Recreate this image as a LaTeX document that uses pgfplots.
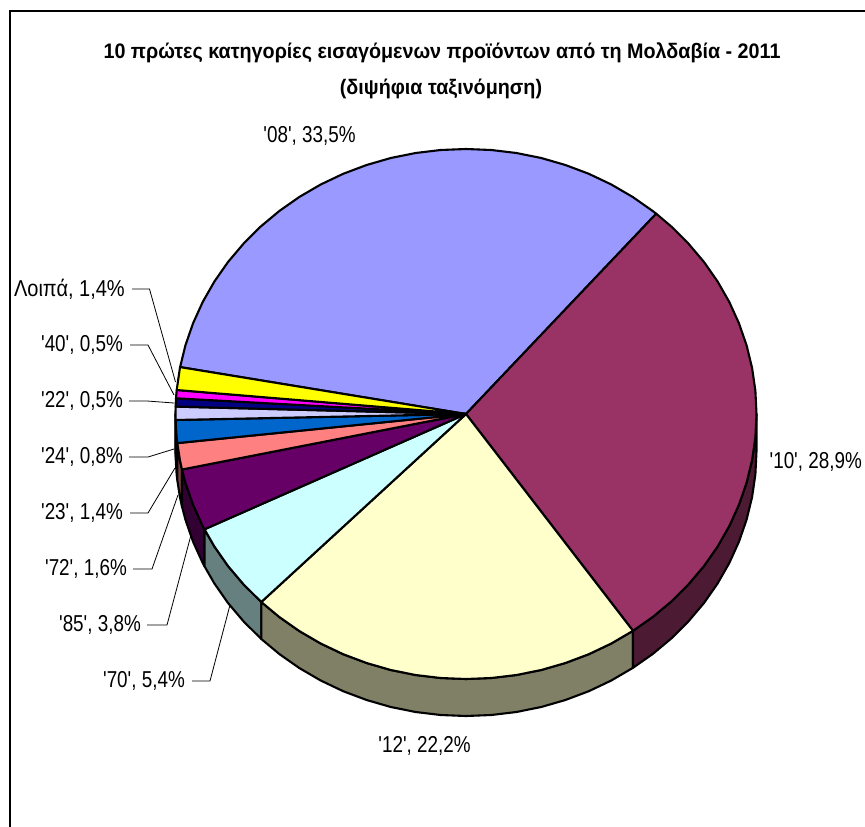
\documentclass[border=0pt]{standalone}
\usepackage{fontspec}
\setmainfont{Liberation Sans}
\newfontfamily\labfont{Liberation Sans}[FakeStretch=0.82]
\newfontfamily\otherfont{Liberation Sans}[FakeStretch=0.87]
\newfontfamily\titlefont{Liberation Sans}[FakeStretch=0.94]
\usepackage{pgfplots}
\pgfplotsset{compat=1.18}
\definecolor{c08}{HTML}{9999FF}
\definecolor{c10}{HTML}{993366}
\definecolor{c12}{HTML}{FFFFCC}
\definecolor{c70}{HTML}{CCFFFF}
\definecolor{c85}{HTML}{660066}
\definecolor{c72}{HTML}{FF8080}
\definecolor{c23}{HTML}{0066CC}
\definecolor{c24}{HTML}{CCCCFF}
\definecolor{c22}{HTML}{000080}
\definecolor{c40}{HTML}{FF00FF}
\definecolor{cother}{HTML}{FFFF00}
\definecolor{d10}{HTML}{4D1A33}
\definecolor{d12}{HTML}{808066}
\definecolor{d70}{HTML}{668080}
\definecolor{d85}{HTML}{330033}
\definecolor{d72}{HTML}{804040}
\definecolor{d23}{HTML}{003366}
\definecolor{d24}{HTML}{666680}
\tikzset{
  slice/.style={draw=black,line width=2.1pt,line join=round,fill=#1},
  leader/.style={draw=black,line width=0.8pt},
  lab/.style={font=\labfont\fontsize{23}{26}\selectfont,inner sep=0pt},
  ttl/.style={font=\titlefont\fontsize{21}{24}\bfseries\selectfont,inner sep=0pt},
}
\begin{document}
\begin{tikzpicture}
\path[use as bounding box] (0,0) rectangle (865pt,827pt);
\begin{axis}[
  at={(0,0)},anchor=south west,
  scale only axis,width=865pt,height=827pt,
  xmin=0,xmax=865,ymin=0,ymax=827,y dir=reverse,
  hide axis,clip=false,no markers,
]
% chart frame, cut off on the right and at the bottom
\addplot[draw=black,line width=2.8pt] coordinates {(865,11) (10,11) (10,827)};

% side walls
\addplot[slice=d24] coordinates {(175.6,420) (175.5,414) (175.5,451) (175.6,457) (175.6,420)};
\addplot[slice=d23] coordinates {(177.3,443.1) (176.6,437.1) (175.6,420) (175.6,457) (176.6,474.1) (177.3,480.1) (177.3,443.1)};
\addplot[slice=d72] coordinates {(182,469.5) (179.9,460) (177.3,443.1) (177.3,480.1) (179.9,497) (182,506.5) (182,469.5)};
\addplot[slice=d85] coordinates {(204.5,529.3) (202.7,526) (193,504.6) (185.4,482.6) (182,469.5) (182,506.5) (185.4,519.6) (193,541.6) (202.7,563) (204.5,566.3) (204.5,529.3)};
\addplot[slice=d70] coordinates {(261.3,602) (243.5,584.3) (228,566) (214.4,546.5) (204.5,529.3) (204.5,566.3) (214.4,583.5) (228,603) (243.5,621.3) (261.3,639) (261.3,602)};
\addplot[slice=d12] coordinates {(633,630.8) (611.3,643.5) (588.8,654.2) (565.4,663) (541.2,670) (516.4,675) (491.3,678) (466,679) (440.7,678) (415.6,675) (390.8,670) (366.6,663) (343.2,654.2) (320.7,643.5) (299.4,631.1) (279.3,617) (261.3,602)
  (261.3,639) (279.3,654) (299.4,668.1) (320.7,680.5) (343.2,691.2) (366.6,700) (390.8,707) (415.6,712) (440.7,715) (466,716) (491.3,715) (516.4,712) (541.2,707) (565.4,700) (588.8,691.2) (611.3,680.5) (633,667.8) (633,630.8)};
\addplot[slice=d10] coordinates {(756.5,414) (755.4,437.1) (752.1,460) (746.6,482.6) (739,504.6) (729.3,526) (717.6,546.5) (704,566) (688.5,584.3) (671.4,601.4) (652.7,617) (633,630.8)
  (633,667.8) (652.7,654) (671.4,638.4) (688.5,621.3) (704,603) (717.6,583.5) (729.3,563) (739,541.6) (746.6,519.6) (752.1,497) (755.4,474.1) (756.5,451) (756.5,414)};

% top faces: '08' 33.5, '10' 28.9, '12' 22.2, '70' 5.4, '85' 3.8, '72' 1.6, '23' 1.4, '24' 0.8, '22' 0.5, '40' 0.5, other 1.4
\addplot[slice=c08] coordinates {(466,414) (180.1,367.1) (185.4,345.4) (193,323.4) (202.7,302) (214.4,281.5) (228,262) (243.5,243.7) (260.6,226.6) (279.3,211) (299.4,196.9) (320.7,184.5) (343.2,173.8) (366.6,165) (390.8,158) (415.6,153) (440.7,150) (466,149) (491.3,150) (516.4,153) (541.2,158) (565.4,165) (588.8,173.8) (611.3,184.5) (632.6,196.9) (652.7,211) (656.2,213.7) (466,414)};
\addplot[slice=c10] coordinates {(466,414) (656.2,213.7) (671.4,226.6) (688.5,243.7) (704,262) (717.6,281.5) (729.3,302) (739,323.4) (746.6,345.4) (752.1,368) (755.4,390.9) (756.5,414) (755.4,437.1) (752.1,460) (746.6,482.6) (739,504.6) (729.3,526) (717.6,546.5) (704,566) (688.5,584.3) (671.4,601.4) (652.7,617) (633,630.8) (466,414)};
\addplot[slice=c12] coordinates {(466,414) (633,630.8) (611.3,643.5) (588.8,654.2) (565.4,663) (541.2,670) (516.4,675) (491.3,678) (466,679) (440.7,678) (415.6,675) (390.8,670) (366.6,663) (343.2,654.2) (320.7,643.5) (299.4,631.1) (279.3,617) (261.3,602) (466,414)};
\addplot[slice=c70] coordinates {(466,414) (261.3,602) (243.5,584.3) (228,566) (214.4,546.5) (204.5,529.3) (466,414)};
\addplot[slice=c85] coordinates {(466,414) (204.5,529.3) (202.7,526) (193,504.6) (185.4,482.6) (182,469.5) (466,414)};
\addplot[slice=c72] coordinates {(466,414) (182,469.5) (179.9,460) (177.3,443.1) (466,414)};
\addplot[slice=c23] coordinates {(466,414) (177.3,443.1) (176.6,437.1) (175.6,420) (466,414)};
\addplot[slice=c24] coordinates {(466,414) (175.6,420) (175.5,414) (175.6,406.6) (466,414)};
\addplot[slice=c22] coordinates {(466,414) (175.6,406.6) (176,398.3) (466,414)};
\addplot[slice=c40] coordinates {(466,414) (176,398.3) (176.7,390) (466,414)};
\addplot[slice=cother] coordinates {(466,414) (176.7,390) (179.9,368) (180.1,367.1) (466,414)};

% leader lines
\addplot[leader] coordinates {(132,289) (149.5,289) (175.5,382)};
\addplot[leader] coordinates {(130,345) (148,345) (174,395)};
\addplot[leader] coordinates {(129,401) (147,401) (174,403)};
\addplot[leader] coordinates {(129,457) (148,457) (174,449)};
\addplot[leader] coordinates {(130,513) (148,513) (175,468)};
\addplot[leader] coordinates {(133,569) (152,569) (178,495)};
\addplot[leader] coordinates {(147,625) (167,625) (191,535)};
\addplot[leader] coordinates {(192,681) (210,681) (230,605)};

% title
\node[ttl] at (axis cs:442,53) {10 πρώτες κατηγορίες εισαγόμενων προϊόντων από τη Μολδαβία - 2011};
\node[ttl] at (axis cs:441,89) {(διψήφια ταξινόμηση)};

% data labels
\node[lab] at (axis cs:309.5,136) {'08', 33,5\%};
\node[lab,anchor=east] at (axis cs:862,462) {'10', 28,9\%};
\node[lab] at (axis cs:424.5,746) {'12', 22,2\%};
\node[lab,anchor=east,font=\otherfont\fontsize{23}{26}\selectfont] at (axis cs:125,289) {Λοιπά, 1,4\%};
\node[lab,anchor=east] at (axis cs:123,345) {'40', 0,5\%};
\node[lab,anchor=east] at (axis cs:123,401) {'22', 0,5\%};
\node[lab,anchor=east] at (axis cs:123,457) {'24', 0,8\%};
\node[lab,anchor=east] at (axis cs:123,513) {'23', 1,4\%};
\node[lab,anchor=east] at (axis cs:127,569) {'72', 1,6\%};
\node[lab,anchor=east] at (axis cs:141,625) {'85', 3,8\%};
\node[lab,anchor=east] at (axis cs:185,681) {'70', 5,4\%};
\end{axis}
\end{tikzpicture}
\end{document}
